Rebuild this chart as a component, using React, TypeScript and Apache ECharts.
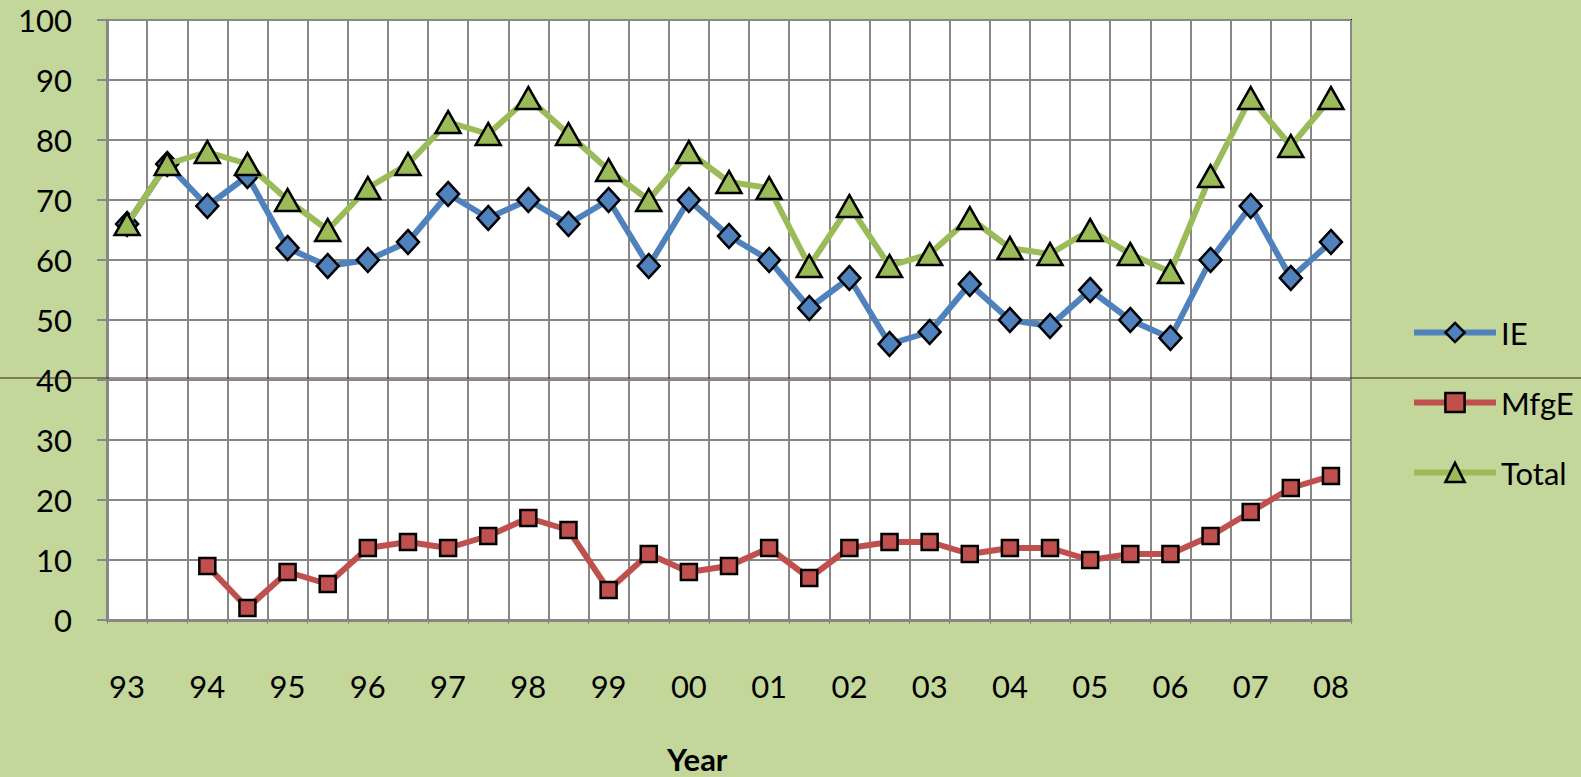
import React, { useEffect, useRef } from "react";
import * as echarts from "echarts";

const categories = [
  "93", "93.5", "94", "94.5", "95", "95.5", "96", "96.5", "97", "97.5",
  "98", "98.5", "99", "99.5", "00", "00.5", "01", "01.5", "02", "02.5",
  "03", "03.5", "04", "04.5", "05", "05.5", "06", "06.5", "07", "07.5", "08",
];

const ieValues = [
  66, 76, 69, 74, 62, 59, 60, 63, 71, 67, 70, 66, 70, 59, 70, 64, 60, 52, 57, 46,
  48, 56, 50, 49, 55, 50, 47, 60, 69, 57, 63,
];

const mfgeValues = [
  null, null, 9, 2, 8, 6, 12, 13, 12, 14, 17, 15, 5, 11, 8, 9, 12, 7, 12, 13,
  13, 11, 12, 12, 10, 11, 11, 14, 18, 22, 24,
];

const totalValues = [
  66, 76, 78, 76, 70, 65, 72, 76, 83, 81, 87, 81, 75, 70, 78, 73, 72, 59, 69, 59,
  61, 67, 62, 61, 65, 61, 58, 74, 87, 79, 87,
];

const seriesNames = ["IE", "MfgE", "Total"];
const xAxisTitle = "Year";

const FONT = "Lato, 'Open Sans', sans-serif";

export default function App() {
  const ref = useRef<HTMLDivElement>(null);

  useEffect(() => {
    if (!ref.current) return;
    const chart = echarts.init(ref.current, undefined, { renderer: "svg" });
    const gray = "#878787";
    chart.setOption({
      animation: false,
      backgroundColor: "#c4d79b",
      textStyle: { fontFamily: FONT },
      grid: {
        left: 107,
        right: 230,
        top: 20,
        bottom: 157,
        show: true,
        backgroundColor: "#ffffff",
        borderColor: "#000000",
        borderWidth: 2,
      },
      legend: {
        orient: "vertical",
        left: 1406,
        top: 312,
        itemWidth: 82,
        itemHeight: 24,
        itemGap: 39,
        data: seriesNames,
        lineStyle: { width: 6 },
        itemStyle: { borderWidth: 2.5, borderColor: "#000" },
        textStyle: { fontSize: 31, color: "#000", fontFamily: FONT },
      },
      xAxis: {
        type: "category",
        data: categories,
        boundaryGap: true,
        axisLine: { show: true, lineStyle: { color: gray, width: 3 } },
        axisTick: { show: true, interval: 0, length: 4, lineStyle: { color: gray, width: 1 } },
        splitLine: { show: true, interval: 0, lineStyle: { color: gray, width: 2 } },
        axisLabel: {
          interval: 0,
          margin: 50,
          fontSize: 31,
          color: "#000",
          fontFamily: FONT,
          formatter: (v: string) => (v.indexOf(".") >= 0 ? "" : v),
        },
      },
      yAxis: {
        type: "value",
        min: 0,
        max: 100,
        interval: 10,
        axisLine: { show: true, lineStyle: { color: gray, width: 3 } },
        axisTick: { show: true, length: 10, lineStyle: { color: gray, width: 2 } },
        splitLine: { show: true, lineStyle: { color: gray, width: 2 } },
        axisLabel: { margin: 35, fontSize: 31, color: "#000", fontFamily: FONT },
      },
      graphic: [
        {
          type: "line",
          shape: { x1: 0, y1: 378, x2: 1581, y2: 378 },
          style: { stroke: "#3b2314", lineWidth: 1 },
          z: 100,
        },
        {
          type: "text",
          left: 667,
          top: 743,
          style: {
            text: xAxisTitle,
            fontSize: 31,
            lineHeight: 32,
            fontWeight: "bold",
            fill: "#000",
            fontFamily: FONT,
          },
        },
      ],
      series: [
        {
          name: seriesNames[0],
          type: "line",
          data: ieValues,
          symbol: "diamond",
          symbolSize: [22, 24],
          lineStyle: { color: "#4f81bd", width: 6 },
          itemStyle: { color: "#4f81bd", borderColor: "#000", borderWidth: 2.5 },
          z: 3,
        },
        {
          name: seriesNames[1],
          type: "line",
          data: mfgeValues,
          symbol: "rect",
          symbolSize: 16,
          lineStyle: { color: "#c0504d", width: 6 },
          itemStyle: { color: "#c0504d", borderColor: "#000", borderWidth: 2.5 },
          z: 4,
        },
        {
          name: seriesNames[2],
          type: "line",
          data: totalValues,
          symbol: "triangle",
          symbolSize: [25, 22],
          lineStyle: { color: "#9bbb59", width: 6 },
          itemStyle: { color: "#9bbb59", borderColor: "#000", borderWidth: 2.5 },
          z: 5,
        },
      ],
    });
    return () => chart.dispose();
  }, []);

  return (
    <div
      ref={ref}
      style={{ position: "absolute", left: 0, top: 0, width: 1581, height: 777 }}
    />
  );
}
